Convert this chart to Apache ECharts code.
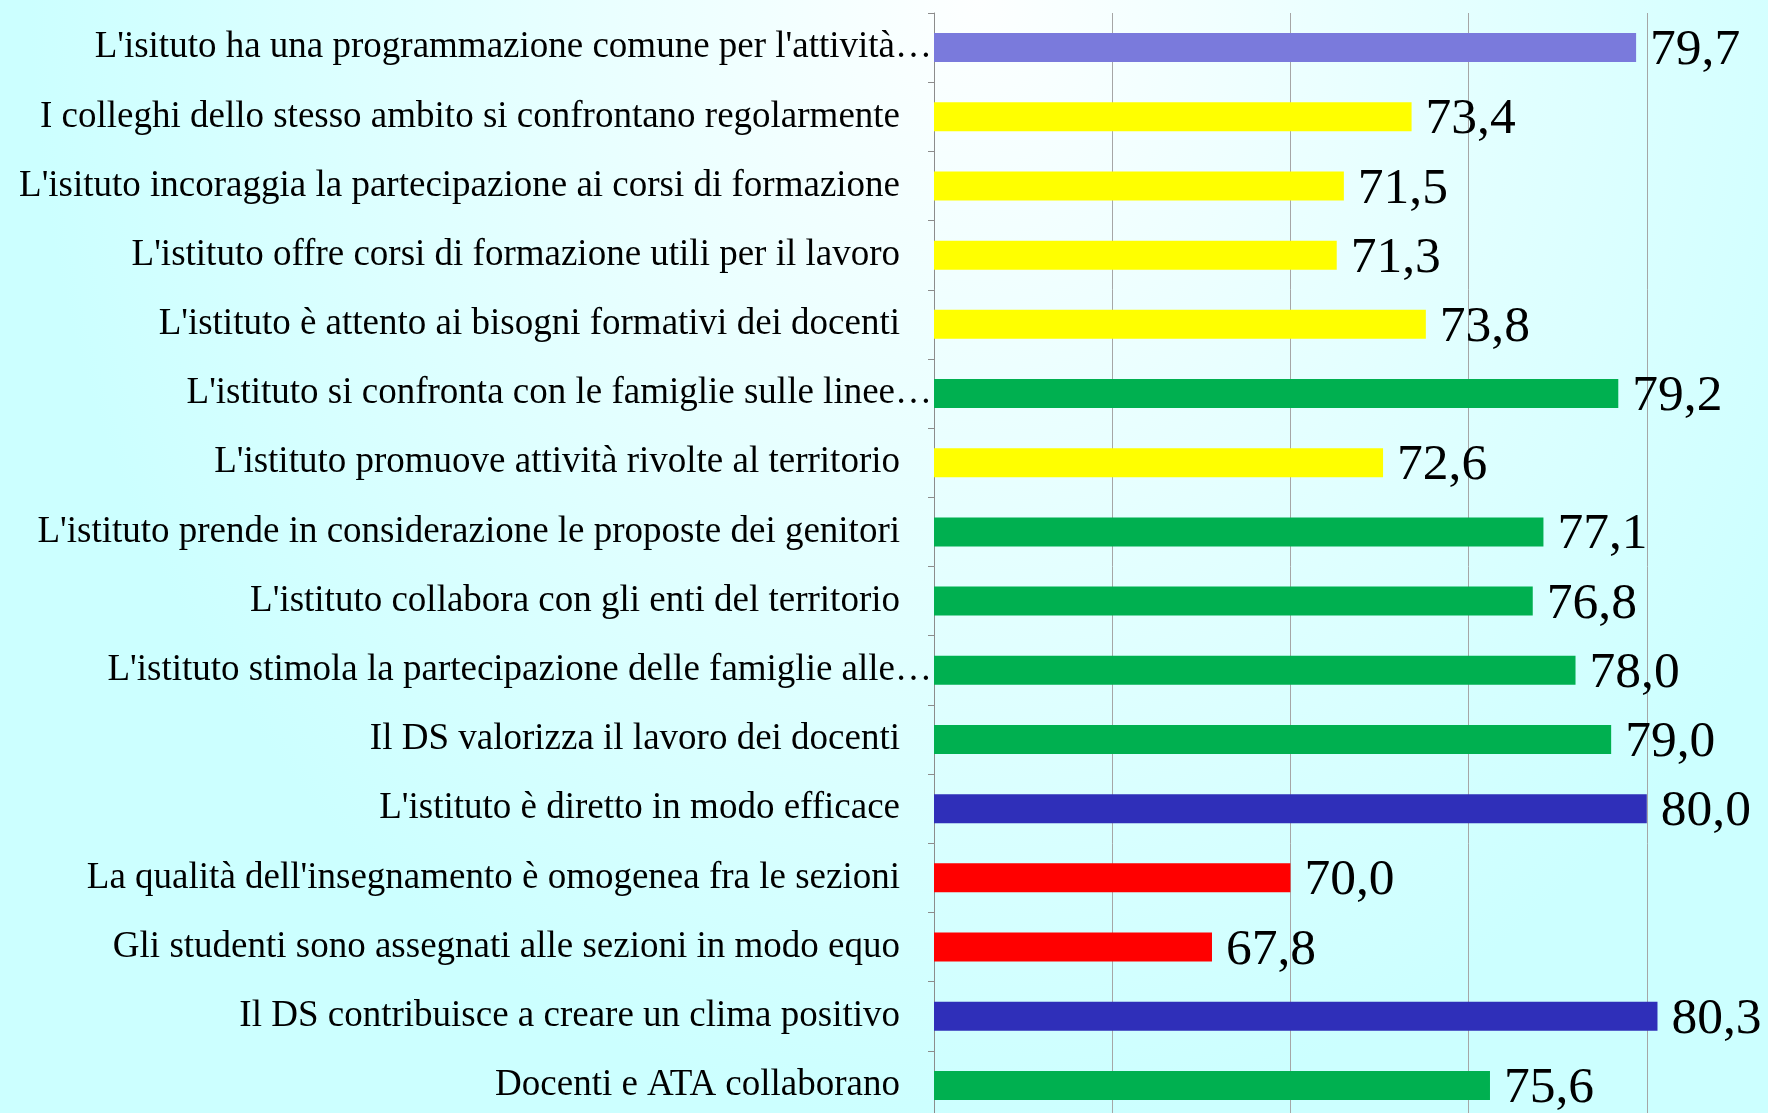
<!DOCTYPE html>
<html>
<head>
<meta charset="utf-8">
<script src="https://cdn.jsdelivr.net/npm/echarts@6/dist/echarts.min.js"></script>
<style>
  html, body { margin: 0; padding: 0; width: 1768px; height: 1113px; overflow: hidden; }
  #frame {
    position: relative; width: 1768px; height: 1113px; overflow: hidden;
    background: radial-gradient(ellipse 950px 1130px at 980px 0px, #fdffff 0%, #ccffff 100%);
  }
  #chart { position: absolute; left: 0; top: 0; width: 1825px; height: 1120px; }
</style>
</head>
<body>
<div id="frame"><div id="chart"></div></div>
<script>
const categories = [
  "L'isituto ha una programmazione comune per l'attività…",
  "I colleghi dello stesso ambito si confrontano regolarmente",
  "L'isituto incoraggia la partecipazione ai corsi di formazione",
  "L'istituto offre corsi di formazione utili per il lavoro",
  "L'istituto è attento ai bisogni formativi dei docenti",
  "L'istituto si confronta con le famiglie sulle linee…",
  "L'istituto promuove attività rivolte al territorio",
  "L'istituto prende in considerazione le proposte dei genitori",
  "L'istituto collabora con gli enti del territorio",
  "L'istituto stimola la partecipazione delle famiglie alle…",
  "Il DS valorizza il lavoro dei docenti",
  "L'istituto è diretto in modo efficace",
  "La qualità dell'insegnamento è omogenea fra le sezioni",
  "Gli studenti sono assegnati alle sezioni in modo equo",
  "Il DS contribuisce a creare un clima positivo",
  "Docenti e ATA collaborano"
];
const values = [79.7, 73.4, 71.5, 71.3, 73.8, 79.2, 72.6, 77.1, 76.8, 78.0, 79.0, 80.0, 70.0, 67.8, 80.3, 75.6];
const groups = ['lilac', 'yellow', 'yellow', 'yellow', 'yellow', 'green', 'yellow', 'green', 'green', 'green', 'green', 'blue', 'red', 'red', 'blue', 'green'];
const palette = { lilac: '#7a7adc', yellow: '#ffff00', green: '#00b050', blue: '#2f2fb9', red: '#ff0000' };

const FONT = '"Liberation Serif", "Times New Roman", serif';
const chart = echarts.init(document.getElementById('chart'), null, { renderer: 'canvas' });
chart.setOption({
  backgroundColor: 'transparent',
  animation: false,
  grid: { left: 934, right: 0, top: 13, bottom: 0, containLabel: false },
  xAxis: {
    type: 'value', min: 60, max: 85, interval: 5,
    axisLine: { show: false }, axisTick: { show: false }, axisLabel: { show: false },
    splitLine: { show: true, lineStyle: { color: '#a6a6a6', width: 1 } }
  },
  yAxis: {
    type: 'category', inverse: true, data: categories,
    axisLine: { show: true, lineStyle: { color: '#8c8c8c', width: 1 } },
    axisTick: { show: true, length: 6, lineStyle: { color: '#8c8c8c' } },
    axisLabel: {
      margin: 2,
      fontFamily: FONT, fontSize: 37, color: '#000',
      formatter: v => v.endsWith('…') ? '{t|' + v + '}' : '{n|' + v + '}',
      rich: {
        t: { fontFamily: FONT, fontSize: 37, color: '#000' },
        n: { fontFamily: FONT, fontSize: 37, color: '#000', padding: [0, 32, 0, 0] }
      }
    }
  },
  series: [{
    type: 'bar', barWidth: 29,
    data: values.map((v, i) => ({ value: v, itemStyle: { color: palette[groups[i]] } })),
    label: {
      show: true, position: 'right', distance: 14, offset: [0, 3],
      fontFamily: FONT, fontSize: 51.5, color: '#000',
      formatter: p => p.value.toFixed(1).replace('.', ',')
    }
  }]
});
</script>
</body>
</html>
